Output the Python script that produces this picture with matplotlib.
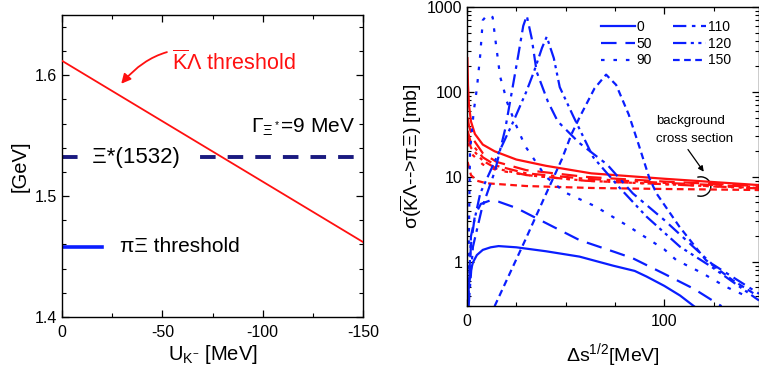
import matplotlib
matplotlib.use("Agg")
import matplotlib.pyplot as plt
import numpy as np
from matplotlib.ticker import MultipleLocator, FixedLocator, LogLocator, NullFormatter, FuncFormatter
from matplotlib.patches import Arc

plt.rcParams['font.family'] = ['Liberation Sans', 'DejaVu Sans']
plt.rcParams['mathtext.fontset'] = 'custom'
plt.rcParams['mathtext.rm'] = 'Liberation Sans'
plt.rcParams['mathtext.it'] = 'Liberation Sans:italic'
plt.rcParams['mathtext.bf'] = 'Liberation Sans:bold'

# ---- left panel data ----
uk = [0, -150]                      # U_K- [MeV]
kl_threshold = [1.612, 1.462]       # Kbar Lambda threshold [GeV]
xi_star_mass = 1.532                # Xi*(1532)
pi_xi_threshold = 1.458             # pi Xi threshold
pi_xi_span = [0, -20]

# ---- right panel data: sigma(Kbar Lambda -> pi Xi) [mb] vs Delta s^1/2 [MeV] ----
labels = ['0', '50', '90', '110', '120', '150']

# resonance (blue) curves
res_x = {
    '0':   [0.3, 1, 2, 3, 5, 8, 12, 16, 25, 40, 57, 74, 85, 91, 100, 108, 115],
    '50':  [0.5, 2, 4, 7, 12, 16, 25, 37, 57, 75, 84, 100, 115, 129],
    '90':  [0.5, 1.5, 3.4, 5, 6.7, 8, 10.5, 13, 14.3, 16.8, 18.5, 20.2, 24.4, 29.5, 40, 50, 65, 82, 100, 106, 119, 131, 142],
    '110': [0.8, 3, 7.6, 14.3, 19.4, 22.7, 26, 28.5, 30.3, 32.8, 35.3, 41, 46, 57, 71, 84, 100, 124, 148],
    '120': [0.5, 2, 6.7, 15, 23.5, 30, 34, 38, 40.4, 44, 47, 54, 64, 77, 91, 108, 124, 148],
    '150': [14, 20, 29.5, 39.5, 48, 53, 57, 64.6, 70.5, 75.6, 82, 87, 92.4, 96, 107.6, 121, 134.5, 147],
}
res_y = {
    '0':   [0.3, 0.55, 0.8, 0.98, 1.2, 1.38, 1.48, 1.53, 1.48, 1.33, 1.15, 0.9, 0.78, 0.67, 0.52, 0.4, 0.3],
    '50':  [0.3, 1.6, 3.5, 4.8, 5.3, 5.1, 4.3, 3.1, 1.8, 1.3, 1.1, 0.72, 0.48, 0.3],
    '90':  [0.3, 20, 59, 110, 273, 700, 820, 760, 427, 151, 110, 77, 43, 23, 10, 6.5, 4.5, 2.6, 1.4, 1.05, 0.74, 0.51, 0.39],
    '110': [0.3, 1.5, 4.3, 12, 37, 100, 273, 600, 790, 427, 173, 77, 45, 25, 14, 6.4, 3.1, 0.95, 0.42],
    '120': [0.3, 2, 6.4, 17, 45, 100, 175, 330, 447, 250, 114, 51, 17, 7.6, 3.4, 1.5, 0.87, 0.35],
    '150': [0.3, 0.6, 1.8, 5.9, 16, 32, 50, 110, 160, 121, 54, 24, 9.7, 6.4, 2.6, 1.05, 0.61, 0.4],
}

# background (red) curves
bg_x = {
    '0':   [0.2, 0.5, 1, 2, 4, 8, 14, 25, 40, 63, 100, 148],
    '50':  [0.3, 1, 3, 8, 15, 30, 60, 100, 148],
    '90':  [0.3, 1, 3, 8, 15, 30, 60, 100, 148],
    '110': [0.3, 2, 8, 15, 30, 60, 100, 148],
    '120': [0.3, 2, 8, 15, 30, 60, 100, 148],
    '150': [0.3, 2, 5, 10, 30, 63, 100, 148],
}
bg_y = {
    '0':   [250, 120, 70, 45, 32, 24, 20, 16, 13.5, 11, 9.5, 8.0],
    '50':  [50, 40, 28, 19, 15, 12, 10, 8.8, 7.8],
    '90':  [25, 22, 18, 14, 12, 10.5, 9, 8.2, 7.4],
    '110': [35, 25, 17, 13.5, 11, 9.5, 8.5, 7.6],
    '120': [30, 22, 15.5, 12.5, 10.5, 9, 8.2, 7.3],
    '150': [15, 10.5, 9, 8.4, 7.8, 7.4, 7.2, 7.0],
}

styles = {
    '0': '-',
    '50': (0, (7, 4)),
    '90': (0, (1.6, 4)),
    '110': (0, (6, 2.5, 1.6, 2.5)),
    '120': (0, (6, 2, 1.4, 2, 1.4, 2)),
    '150': (0, (3, 2)),
}

blue = '#0a1eff'
red = '#ff1010'
navy = '#1a1a80'

fig = plt.figure(figsize=(7.59, 3.72), dpi=100)

# ================= left panel =================
ax1 = fig.add_axes([0.0817, 0.148, 0.3966, 0.812])
ax1.plot(uk, [xi_star_mass, xi_star_mass], color=navy, lw=2.8, linestyle=(0, (4.0, 3.1)))
ax1.plot(pi_xi_span, [pi_xi_threshold, pi_xi_threshold], color=blue, lw=2.6)
ax1.text(-37.1, xi_star_mass, '  Ξ*(1532)  ', fontsize=16, ha='center', va='center',
         bbox=dict(facecolor='white', edgecolor='none', pad=2))
ax1.plot(uk, kl_threshold, color=red, lw=1.3, zorder=4)

ax1.text(-29, pi_xi_threshold, 'πΞ threshold', fontsize=15, va='center')
ax1.text(-94, 1.557, r'Γ$_{\Xi^*}$=9 MeV', fontsize=15, va='center')
ax1.annotate(r'$\overline{\mathrm{K}}$Λ threshold', xy=(-29.5, 1.593), xytext=(-55, 1.6105),
             fontsize=15.5, color=red, va='center',
             arrowprops=dict(arrowstyle='-|>', color=red, lw=1.3, mutation_scale=14,
                             connectionstyle='arc3,rad=0.4', shrinkA=2, shrinkB=0))

ax1.set_xlim(0, -150)
ax1.set_ylim(1.4, 1.65)
ax1.xaxis.set_major_locator(FixedLocator([0, -50, -100, -150]))
ax1.xaxis.set_minor_locator(MultipleLocator(25))
ax1.yaxis.set_major_locator(FixedLocator([1.4, 1.5, 1.6]))
ax1.yaxis.set_minor_locator(MultipleLocator(0.02))
ax1.set_xticklabels(['0', '-50', '-100', '-150'])
ax1.set_xlabel(r'U$_{\mathrm{K}^{\mathrm{-}}}$ [MeV]', fontsize=14.5, labelpad=2)
ax1.set_ylabel('[GeV]', fontsize=14.5, labelpad=4)

# ================= right panel =================
ax2 = fig.add_axes([0.6153, 0.177, 0.3847, 0.804])
for lab in labels:
    ax2.plot(bg_x[lab], bg_y[lab], color=red, lw=1.6, linestyle=styles[lab])
for lab in labels:
    ax2.plot(res_x[lab], res_y[lab], color=blue, lw=1.6, linestyle=styles[lab], label=lab)

ax2.set_yscale('log')
ax2.set_xlim(0, 148)
ax2.set_ylim(0.3, 1000)
ax2.xaxis.set_major_locator(FixedLocator([0, 100]))
ax2.xaxis.set_minor_locator(MultipleLocator(25))
ax2.yaxis.set_major_locator(LogLocator(base=10, numticks=10))
ax2.yaxis.set_minor_locator(LogLocator(base=10, subs=np.arange(2, 10), numticks=20))
ax2.yaxis.set_minor_formatter(NullFormatter())
ax2.yaxis.set_major_formatter(FuncFormatter(lambda v, p: '%g' % v))

ax2.set_xlabel(r'Δs$^{1/2}$[MeV]', fontsize=14, labelpad=8)
ax2.set_ylabel(r'σ($\overline{\mathrm{K}}$Λ-->πΞ) [mb]', fontsize=14, labelpad=2)

ax2.legend(ncol=2, frameon=False, fontsize=10, handlelength=2.4, handletextpad=0.15,
           columnspacing=1.5, labelspacing=0.2, loc='upper right',
           bbox_to_anchor=(0.935, 0.985), borderaxespad=0.2)

ax2.text(96, 45, 'background', fontsize=9.5, va='center')
ax2.text(96, 28, 'cross section', fontsize=9.5, va='center')
ax2.annotate('', xy=(120, 11.5), xytext=(112, 21),
             arrowprops=dict(arrowstyle='-|>', color='black', lw=0.9, mutation_scale=8,
                             shrinkA=0, shrinkB=0))
ax2.add_patch(Arc((0.80, 0.40), 0.07, 0.065, theta1=-110, theta2=110,
                  transform=ax2.transAxes, color='black', lw=1.0))

for ax in (ax1, ax2):
    ax.tick_params(which='both', direction='in', top=True, right=True, labelsize=11.5)
    ax.tick_params(which='major', length=5, width=0.9)
    ax.tick_params(which='minor', length=3, width=0.8)
    for s in ax.spines.values():
        s.set_linewidth(1.0)
ax2.tick_params(axis='x', pad=6)
ax1.tick_params(axis='x', pad=6)

fig.savefig('out.png', dpi=100)
